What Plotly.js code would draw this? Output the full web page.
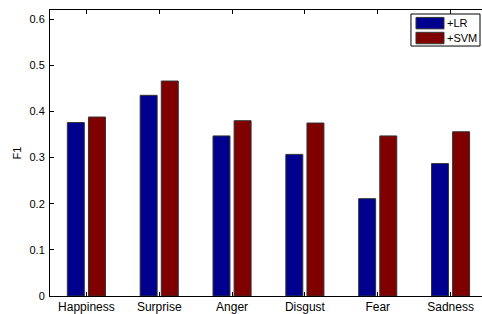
<!DOCTYPE html>
<html>
<head>
<meta charset="utf-8">
<script src="https://cdn.plot.ly/plotly-3.0.1.min.js"></script>
<style>html,body{margin:0;padding:0;overflow:hidden;background:#fff;}</style>
</head>
<body>
<div id="chart" style="width:490px;height:314px;"></div>
<script>
const categories = ["Happiness", "Surprise", "Anger", "Disgust", "Fear", "Sadness"];
const lrValues = [0.376, 0.435, 0.347, 0.307, 0.211, 0.287];
const svmValues = [0.388, 0.466, 0.380, 0.375, 0.347, 0.356];
const seriesNames = ["+LR", "+SVM"];
const seriesColors = ["#00008F", "#800000"];
const yTicks = [0, 0.1, 0.2, 0.3, 0.4, 0.5, 0.6];
const yTickLabels = ["0", "0.1", "0.2", "0.3", "0.4", "0.5", "0.6"];

const xIdx = categories.map((c, i) => i + 1);
const fam = "Liberation Sans, Arial, Helvetica, sans-serif";

const traces = [
  {type: "bar", name: seriesNames[0], x: xIdx, y: lrValues, width: 0.233, offset: -0.262,
   marker: {color: seriesColors[0], line: {color: "#333", width: 1}}},
  {type: "bar", name: seriesNames[1], x: xIdx, y: svmValues, width: 0.233, offset: 0.028,
   marker: {color: seriesColors[1], line: {color: "#333", width: 1}}}
];

// custom legend (paper coordinates)
const legBox = {x0: 0.826, x1: 0.984, y0: 0.874, y1: 0.986};
const shapes = [
  {type: "rect", xref: "paper", yref: "paper", x0: legBox.x0, x1: legBox.x1, y0: legBox.y0, y1: legBox.y1,
   line: {color: "#000", width: 1}, fillcolor: "#fff", layer: "above"}
];
const annotations = [];
const rowCenters = [0.954, 0.902];
seriesNames.forEach((n, i) => {
  const yc = rowCenters[i];
  shapes.push({type: "rect", xref: "paper", yref: "paper", x0: 0.8375, x1: 0.9016,
               y0: yc - 0.02, y1: yc + 0.02, fillcolor: seriesColors[i],
               line: {color: "#333", width: 1}, layer: "above"});
  annotations.push({xref: "paper", yref: "paper", x: 0.903, y: yc, xanchor: "left", yanchor: "middle",
                    text: n, showarrow: false, font: {family: fam, size: 11, color: "#000"}});
});

const layout = {
  width: 490, height: 314,
  margin: {l: 50, r: 3, t: 10, b: 18},
  paper_bgcolor: "#fff", plot_bgcolor: "#fff",
  font: {family: fam, size: 11, color: "#000"},
  barmode: "overlay",
  showlegend: false,
  shapes: shapes,
  annotations: annotations,
  xaxis: {range: [0.5, 6.5], tickvals: xIdx, ticktext: categories,
          ticks: "inside", ticklen: 4, tickcolor: "#000", mirror: "ticks",
          showline: true, linecolor: "#000", linewidth: 1, showgrid: false,
          zeroline: false, tickfont: {family: fam, size: 12, color: "#000"}},
  yaxis: {range: [0, 0.62], tickvals: yTicks, ticktext: yTickLabels,
          ticks: "inside", ticklen: 4, tickcolor: "#000", mirror: "ticks",
          showline: true, linecolor: "#000", linewidth: 1, showgrid: false,
          zeroline: false, ticklabelstandoff: 2, tickfont: {family: fam, size: 11, color: "#000"},
          title: {text: "F1", font: {family: fam, size: 11, color: "#000"}, standoff: 5}}
};

Plotly.newPlot("chart", traces, layout, {displayModeBar: false, staticPlot: true});
</script>
</body>
</html>
